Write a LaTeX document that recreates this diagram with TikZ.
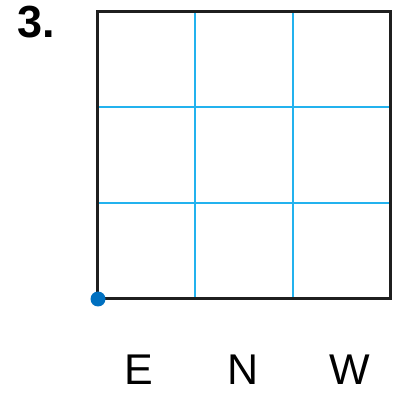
\documentclass[tikz,border=0pt]{standalone}
\usepackage{fontspec}
\setmainfont{Liberation Sans}
\definecolor{gridblue}{RGB}{35,178,238}
\definecolor{dotblue}{RGB}{0,112,192}
\begin{document}
\begin{tikzpicture}[x=1pt,y=1pt]
  \def \minx {97}
  \def \maxx {390}
  \def \miny {94}
  \def \maxy {381}

  \useasboundingbox (0,0) rectangle (392,393);

  % inner grid
  \foreach \x in {195,293}{
    \fill[gridblue] (\x-0.8,\miny) rectangle (\x+0.8,\maxy);
  }
  \foreach \y in {190,286}{
    \fill[gridblue] (\minx,\y-0.8) rectangle (\maxx,\y+0.8);
  }

  \draw[line width=3pt, black!88] (\minx,\miny) rectangle (\maxx,\maxy);

  \fill[dotblue] (\minx+1,\miny) circle (7.5);

  \node[anchor=base west, inner sep=0, font=\fontsize{45}{45}\selectfont\bfseries] (num) at (17,355) {3.};

  \node[anchor=base, inner sep=0, font=\fontsize{43}{43}\selectfont] (east) at (139,9) {E};
  \node[anchor=base, inner sep=0, font=\fontsize{43}{43}\selectfont] (north) at (243.5,9) {N};
  \node[anchor=base, inner sep=0, font=\fontsize{43}{43}\selectfont] (west) at (350,9) {W};
\end{tikzpicture}
\end{document}
